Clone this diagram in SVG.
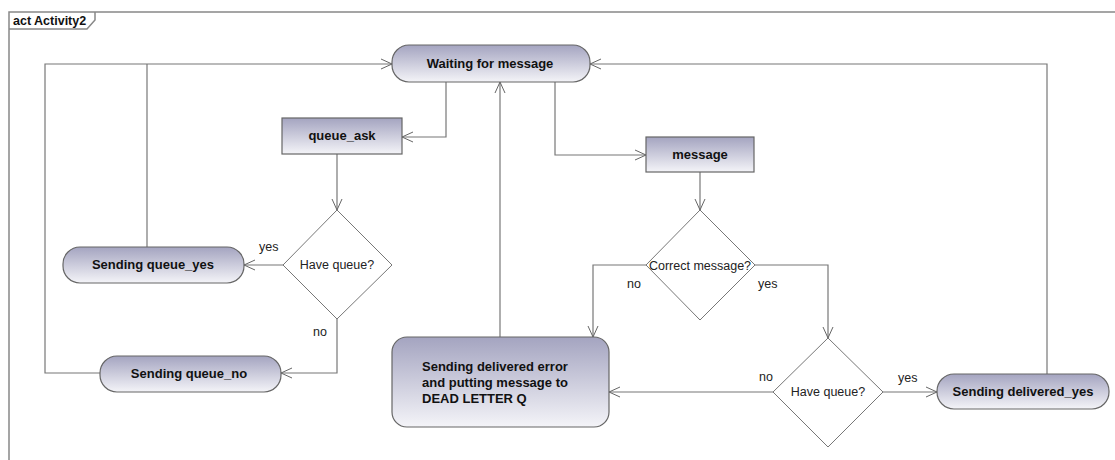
<svg xmlns="http://www.w3.org/2000/svg" width="1115" height="460" viewBox="0 0 1115 460">
<defs>
  <linearGradient id="g" x1="0" y1="0" x2="0" y2="1">
    <stop offset="0" stop-color="#a4a4c0"/>
    <stop offset="1" stop-color="#f4f4f8"/>
  </linearGradient>
  <marker id="arr" viewBox="0 0 12 12" refX="11" refY="6" markerWidth="12" markerHeight="12" markerUnits="userSpaceOnUse" orient="auto">
    <path d="M0,1 L11,6 L0,11" fill="none" stroke="#666" stroke-width="1"/>
  </marker>
</defs>
<style>
  .node { fill: url(#g); stroke: #666; stroke-width: 1.2; }
  .dec { fill: #fff; stroke: #777; stroke-width: 1; }
  .lbl { font-family: "Liberation Sans", Arial, sans-serif; font-size: 13px; font-weight: bold; fill: #111; }
  .ttl { font-family: "Liberation Sans", Arial, sans-serif; font-size: 12.5px; font-weight: bold; fill: #111; }
  .txt { font-family: "Liberation Sans", Arial, sans-serif; font-size: 12.5px; fill: #222; }
  .edge { fill: none; stroke: #777; stroke-width: 1.2; }
  .frame { fill: none; stroke: #888; stroke-width: 1.5; }
</style>
<rect width="1115" height="460" fill="#fff"/>
<g id="frame">
  <path class="frame" d="M9,470 L9,12 L1120,12"/>
  <path class="frame" d="M9,29 L87,29 L95,20 L95,12"/>
  <text class="ttl" x="13" y="25">act Activity2</text>
</g>
<g id="connectors">
  <path class="edge" d="M100,373 L45,373 L45,64 L392,64" marker-end="url(#arr)"/>
  <path class="edge" d="M147,247 L147,64"/>
  <path class="edge" d="M446,82 L446,137 L402,137" marker-end="url(#arr)"/>
  <path class="edge" d="M337,154 L337,210" marker-end="url(#arr)"/>
  <path class="edge" d="M283,265 L244,265" marker-end="url(#arr)"/>
  <path class="edge" d="M337,319 L337,373 L281,373" marker-end="url(#arr)"/>
  <path class="edge" d="M555,82 L555,155 L646,155" marker-end="url(#arr)"/>
  <path class="edge" d="M700,172 L700,210" marker-end="url(#arr)"/>
  <path class="edge" d="M646,265 L593,265 L593,337" marker-end="url(#arr)"/>
  <path class="edge" d="M755,265 L828,265 L828,338" marker-end="url(#arr)"/>
  <path class="edge" d="M773,392 L609,392" marker-end="url(#arr)"/>
  <path class="edge" d="M883,392 L937,392" marker-end="url(#arr)"/>
  <path class="edge" d="M500,337 L500,82" marker-end="url(#arr)"/>
  <path class="edge" d="M1047,374 L1047,64 L590,64" marker-end="url(#arr)"/>
  <text class="txt" x="259" y="251">yes</text>
  <text class="txt" x="313" y="336">no</text>
  <text class="txt" x="627" y="288">no</text>
  <text class="txt" x="758" y="288">yes</text>
  <text class="txt" x="759" y="381">no</text>
  <text class="txt" x="898" y="382">yes</text>
</g>
<g id="waiting">
  <rect class="node" x="392" y="45" width="198" height="37" rx="17"/>
  <text class="lbl" x="490" y="68" text-anchor="middle">Waiting for message</text>
</g>
<g id="queue_ask">
  <rect class="node" x="282" y="118" width="120" height="36"/>
  <text class="lbl" x="342" y="140" text-anchor="middle">queue_ask</text>
</g>
<g id="message">
  <rect class="node" x="646" y="137" width="108" height="35"/>
  <text class="lbl" x="700" y="159" text-anchor="middle">message</text>
</g>
<g id="have_queue1">
  <polygon class="dec" points="337,210 392,265 337,319 283,265"/>
  <text class="txt" x="337" y="269" text-anchor="middle">Have queue?</text>
</g>
<g id="sending_queue_yes">
  <rect class="node" x="63" y="247" width="181" height="36" rx="17"/>
  <text class="lbl" x="153" y="269" text-anchor="middle">Sending queue_yes</text>
</g>
<g id="sending_queue_no">
  <rect class="node" x="100" y="356" width="181" height="36" rx="17"/>
  <text class="lbl" x="189" y="378" text-anchor="middle">Sending queue_no</text>
</g>
<g id="correct_message">
  <polygon class="dec" points="700,210 755,265 700,320 646,265"/>
  <text class="txt" x="700" y="270" text-anchor="middle">Correct message?</text>
</g>
<g id="have_queue2">
  <polygon class="dec" points="828,338 883,392 828,447 773,392"/>
  <text class="txt" x="828" y="396" text-anchor="middle">Have queue?</text>
</g>
<g id="dead_letter">
  <rect class="node" x="392" y="337" width="217" height="90" rx="15"/>
  <text class="lbl" x="422" y="371">Sending delivered error</text>
  <text class="lbl" x="422" y="387">and putting message to</text>
  <text class="lbl" x="422" y="403">DEAD LETTER Q</text>
</g>
<g id="sending_delivered_yes">
  <rect class="node" x="937" y="374" width="172" height="35" rx="17"/>
  <text class="lbl" x="1023" y="396" text-anchor="middle">Sending delivered_yes</text>
</g>
</svg>
